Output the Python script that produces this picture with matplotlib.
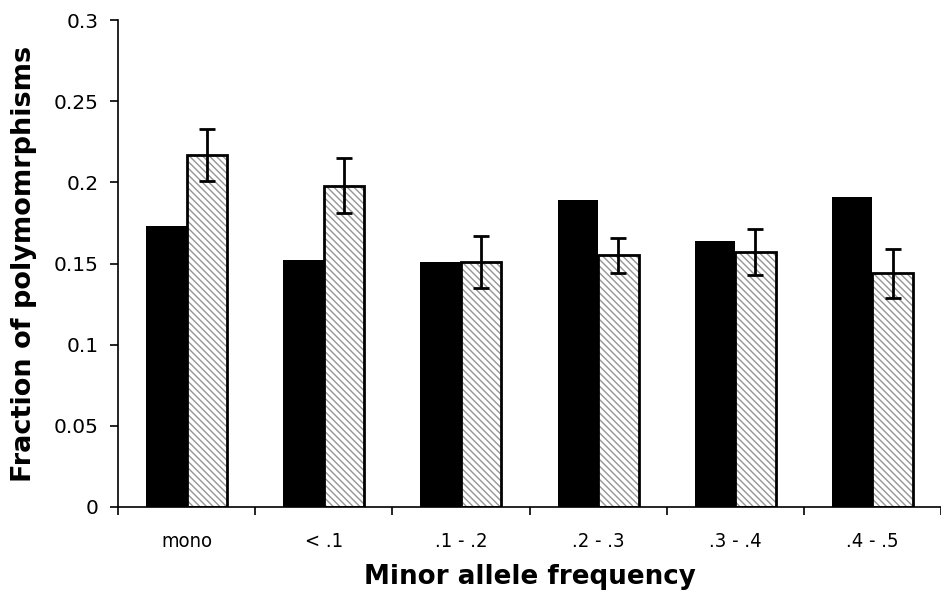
import numpy as np
import matplotlib
matplotlib.use('Agg')
import matplotlib.pyplot as plt

# data
categories = ['mono', '< .1', '.1 - .2', '.2 - .3', '.3 - .4', '.4 - .5']
solid_vals = [0.173, 0.152, 0.151, 0.189, 0.164, 0.191]
hatched_vals = [0.217, 0.198, 0.151, 0.155, 0.157, 0.144]
hatched_err = [0.016, 0.017, 0.016, 0.011, 0.014, 0.015]

plt.rcParams['font.family'] = ['DejaVu Sans']
plt.rcParams['hatch.linewidth'] = 1.0

fig = plt.figure(figsize=(9.41, 5.92), dpi=100)
ax = fig.add_axes([118/941, 1 - 507/592, 1 - 118/941, (507 - 20)/592])

x = np.arange(len(categories))
w = 0.295

ax.bar(x - w/2, solid_vals, w, color='black', edgecolor='black', linewidth=0)
# hatched bars: gray hatch first, black outline on top
ax.bar(x + w/2, hatched_vals, w, color='white', edgecolor='#959595',
       hatch='\\\\\\\\\\', linewidth=0)
ax.bar(x + w/2, hatched_vals, w, fill=False, edgecolor='black', linewidth=2)
ax.errorbar(x + w/2, hatched_vals, yerr=hatched_err, fmt='none', ecolor='black',
            elinewidth=2, capsize=5.5, capthick=2)

ax.set_xlim(-0.5, len(categories) - 0.5)
ax.set_ylim(0, 0.3)
ax.set_yticks([0, 0.05, 0.1, 0.15, 0.2, 0.25, 0.3])
ax.set_yticklabels(['0', '0.05', '0.1', '0.15', '0.2', '0.25', '0.3'], fontsize=14.5)

ax.set_xticks(x)
ax.set_xticklabels(categories, fontsize=14.5, fontstretch='condensed')
ax.set_xticks(np.arange(-0.5, len(categories), 1), minor=True)
ax.tick_params(axis='x', which='major', length=0, pad=18)
ax.tick_params(axis='x', which='minor', length=6, width=1.2, direction='out')
ax.tick_params(axis='y', length=6, width=1.2, direction='out', pad=8)

for s in ['top', 'right']:
    ax.spines[s].set_visible(False)
ax.spines['left'].set_linewidth(1.2)
ax.spines['bottom'].set_linewidth(1.2)

ax.set_xlabel('Minor allele frequency', fontsize=18.8, fontweight='bold', labelpad=9)
ax.set_ylabel('Fraction of polymomrphisms', fontsize=19.5, fontweight='bold', labelpad=12)

plt.savefig('out.png', dpi=100)
